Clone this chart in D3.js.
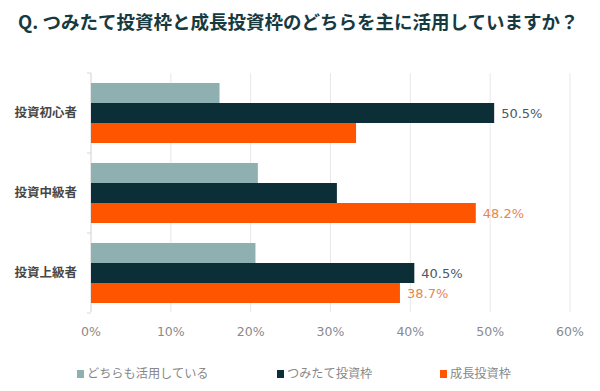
<!DOCTYPE html>
<html>
<head>
<meta charset="utf-8">
<script src="https://cdn.jsdelivr.net/npm/d3@7"></script>
<style>
  body { margin: 0; background: #fff; }
  svg { display: block; }
</style>
</head>
<body>
<div id="chart"></div>
<script>
// data
const categories = ["投資初心者", "投資中級者", "投資上級者"];
const seriesNames = ["どちらも活用している", "つみたて投資枠", "成長投資枠"];
const bothValues = [16.1, 20.9, 20.6];
const tsumitateValues = [50.5, 30.8, 40.5];
const seichoValues = [33.2, 48.2, 38.7];
const tickValues = [0, 10, 20, 30, 40, 50, 60];
// which bars carry a value label
const labelled = [[false, true, false], [false, false, true], [false, true, true]];

const colors = ["#8fb0b0", "#0b2e37", "#ff5500"];
const labelColors = ["#6a8080", "#4a5a60", "#e8864f"];

const width = 600, height = 391;
const svg = d3.select("#chart").append("svg")
  .attr("width", width)
  .attr("height", height);

const font = "'DejaVu Sans', Verdana, sans-serif";
const cjk = "'Noto Sans CJK JP', 'Noto Sans', sans-serif";

// title
svg.append("text")
  .attr("x", 18)
  .attr("y", 29)
  .attr("font-family", cjk)
  .attr("font-weight", "bold")
  .attr("font-size", 18.5)
  .attr("fill", "#173a40")
  .text("Q. つみたて投資枠と成長投資枠のどちらを主に活用していますか？");

const x = d3.scaleLinear().domain([0, 60]).range([91, 570]);
const y = d3.scaleBand().domain(categories).range([73, 313]).paddingInner(0).paddingOuter(0);
const inner = d3.scaleBand().domain([0, 1, 2]).range([10, 70]);

// gridlines
svg.append("g").selectAll("line")
  .data(tickValues)
  .join("line")
  .attr("x1", d => x(d)).attr("x2", d => x(d))
  .attr("y1", 73).attr("y2", 312)
  .attr("stroke", d => d === 0 ? "#d0d0d0" : "#e8e8e8")
  .attr("stroke-width", 1);

// small category ticks on the left
svg.append("g").selectAll("line")
  .data(d3.range(categories.length + 1))
  .join("line")
  .attr("x1", 87).attr("x2", 91)
  .attr("y1", d => 73 + d * y.bandwidth())
  .attr("y2", d => 73 + d * y.bandwidth())
  .attr("stroke", "#d8d8d8");

// x-axis labels
svg.append("g").selectAll("text")
  .data(tickValues)
  .join("text")
  .attr("x", d => x(d))
  .attr("y", 336)
  .attr("text-anchor", "middle")
  .attr("font-family", font)
  .attr("font-size", 12.5)
  .attr("fill", "#8a8a8a")
  .text(d => d + "%");

// category labels
svg.append("g").selectAll("text")
  .data(categories)
  .join("text")
  .attr("x", 77)
  .attr("y", d => y(d) + y.bandwidth() / 2)
  .attr("dy", "0.35em")
  .attr("text-anchor", "end")
  .attr("font-family", cjk)
  .attr("font-weight", "bold")
  .attr("font-size", 12.5)
  .attr("fill", "#474747")
  .text(d => d);

const series = [bothValues, tsumitateValues, seichoValues];

const groups = svg.append("g").selectAll("g")
  .data(categories)
  .join("g")
  .attr("transform", d => `translate(0,${y(d)})`);

groups.each(function (cat, ci) {
  const g = d3.select(this);
  series.forEach((vals, si) => {
    g.append("rect")
      .attr("x", x(0))
      .attr("y", inner(si))
      .attr("width", x(vals[ci]) - x(0))
      .attr("height", inner.bandwidth())
      .attr("fill", colors[si]);
    if (labelled[ci][si]) {
      g.append("text")
        .attr("x", x(vals[ci]) + 7)
        .attr("y", inner(si) + inner.bandwidth() / 2)
        .attr("dy", "0.35em")
        .attr("font-family", font)
        .attr("font-size", 13)
        .attr("fill", labelColors[si])
        .text(vals[ci].toFixed(1) + "%");
    }
  });
});

// legend
const legendX = [77, 277, 440];
const legend = svg.append("g").selectAll("g")
  .data(seriesNames)
  .join("g")
  .attr("transform", (d, i) => `translate(${legendX[i]},374)`);
legend.append("rect")
  .attr("x", 0).attr("y", -4)
  .attr("width", 7).attr("height", 8)
  .attr("fill", (d, i) => colors[i]);
legend.append("text")
  .attr("x", 10)
  .attr("y", 0)
  .attr("dy", "0.35em")
  .attr("font-family", cjk)
  .attr("font-size", 12.2)
  .attr("fill", "#888")
  .text(d => d);
</script>
</body>
</html>
